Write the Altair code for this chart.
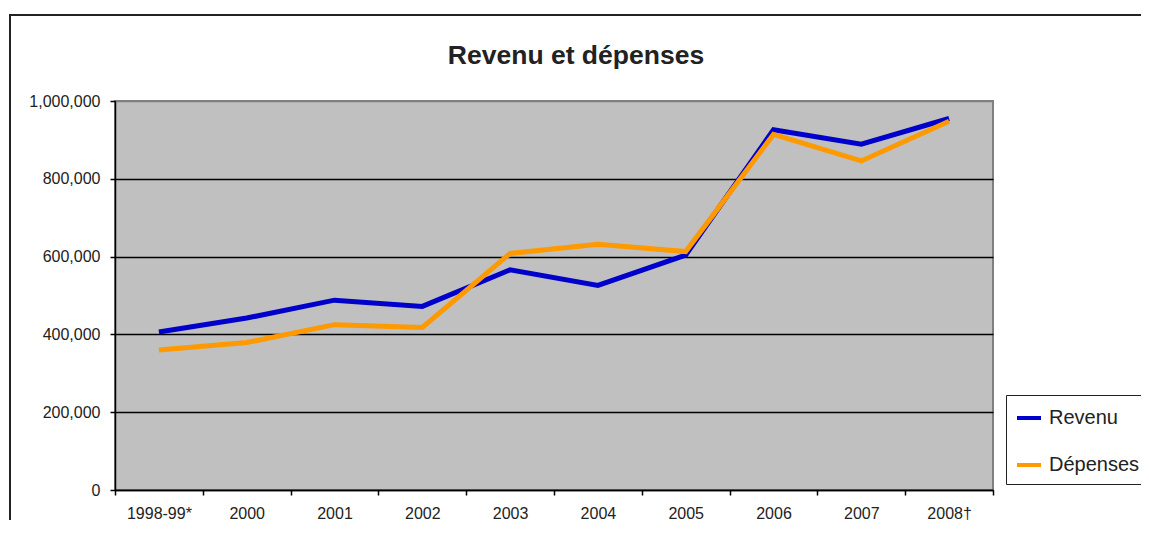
import altair as alt
import pandas as pd

categories = ["1998-99*", "2000", "2001", "2002", "2003", "2004", "2005", "2006", "2007", "2008†"]
revenu = [406000, 442000, 488000, 472000, 566000, 526000, 604000, 926000, 889000, 955000]
depenses = [360000, 379000, 425000, 418000, 608000, 632000, 613000, 914000, 846000, 948000]
series_names = ["Revenu", "Dépenses"]
series_colors = ["#0000CC", "#FF9900"]
y_ticks = [0, 200000, 400000, 600000, 800000, 1000000]

rows = []
for name, vals in zip(series_names, [revenu, depenses]):
    for i, (c, v) in enumerate(zip(categories, vals)):
        rows.append({"Année": c, "Valeur": v, "Série": name, "ordre": i})
df = pd.DataFrame(rows)

FONT = "Liberation Sans"

border = alt.Chart(pd.DataFrame({"k": [0]})).mark_rect(
    fillOpacity=0, stroke="#222222", strokeWidth=2
).encode(
    x=alt.value(-105), x2=alt.value(1400), y=alt.value(-86), y2=alt.value(1000)
)

lines = alt.Chart(df).mark_line(strokeWidth=5, strokeJoin="miter").encode(
    x=alt.X("Année:N", sort=categories, bandPosition=0.5,
            scale=alt.Scale(type="band", paddingInner=0, paddingOuter=0),
            axis=alt.Axis(title=None, labelAngle=0, tickBand="extent", grid=False,
                          labelPadding=10, labelFontSize=16)),
    y=alt.Y("Valeur:Q", scale=alt.Scale(domain=[0, 1000000], nice=False),
            axis=alt.Axis(title=None, values=y_ticks, format=",d", labelPadding=10,
                          labelFontSize=16,
                          gridColor={"condition": {"test": "datum.value >= 1000000", "value": "#808080"},
                                     "value": "#000000"})),
    color=alt.Color("Série:N", sort=series_names,
                    scale=alt.Scale(domain=series_names, range=series_colors),
                    legend=alt.Legend(title=None, orient="none", legendX=891, legendY=294,
                                      symbolType="stroke", symbolSize=576, symbolStrokeWidth=4,
                                      labelFontSize=20, labelFont=FONT, labelColor="#222222",
                                      labelOffset=6, rowPadding=23, padding=9,
                                      strokeColor="#222222", fillColor="white")),
    order=alt.Order("ordre:Q"),
    detail="Série:N",
)

chart = alt.layer(border, lines).properties(
    width=878, height=389,
    autosize=alt.AutoSizeParams(type="none"),
    padding={"left": 107, "top": 93, "right": 148, "bottom": 30},
    title=alt.TitleParams("Revenu et dépenses", fontSize=26.5, font=FONT, fontWeight="bold",
                          color="#222222", anchor="middle", dx=22, dy=55, offset=0),
    background="white",
).configure_view(
    fill="#C0C0C0", stroke="#808080", strokeWidth=2
).configure_axis(
    domainColor="#000000", domainWidth=1.5, tickColor="#000000", tickSize=5, tickWidth=1.5,
    labelFont=FONT, labelColor="#222222", gridWidth=1.5
)

chart.save("out.html", embed_options={"renderer": "svg", "actions": False})
